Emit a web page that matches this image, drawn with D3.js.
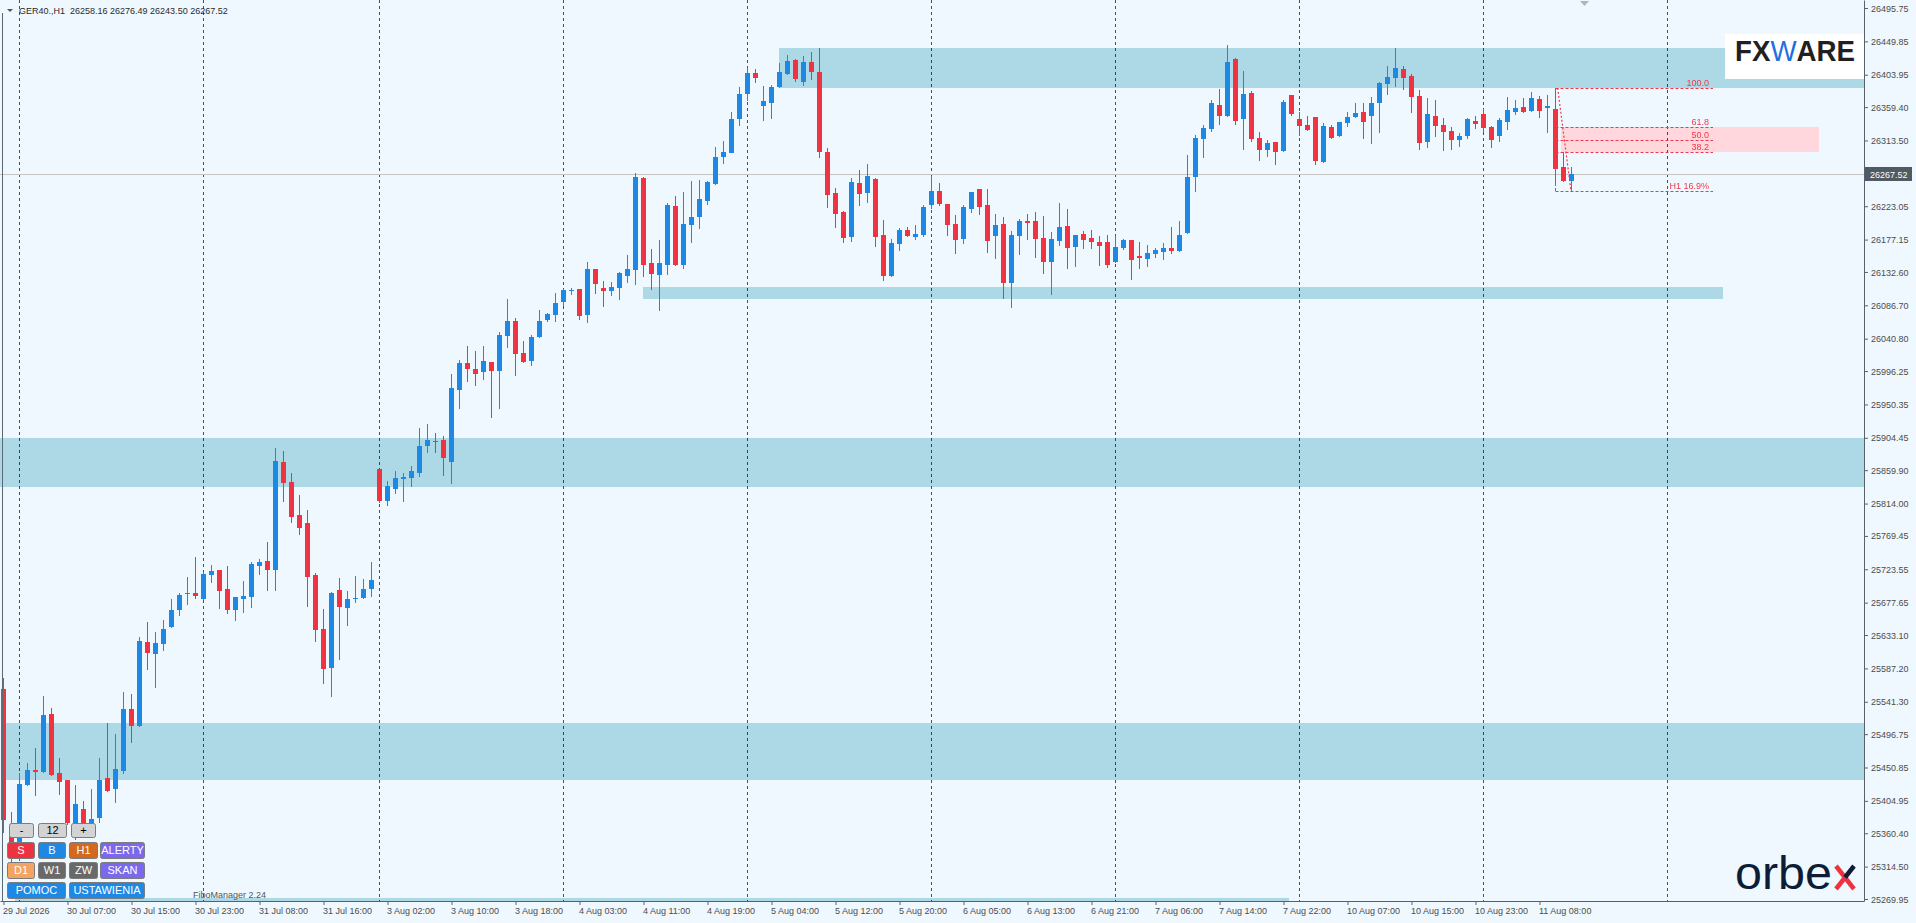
<!DOCTYPE html>
<html><head><meta charset="utf-8">
<script src="https://cdn.jsdelivr.net/npm/d3@7"></script>
<style>
html,body{margin:0;padding:0;background:#F0F8FF;overflow:hidden;}
svg{display:block;}
text{font-family:"Liberation Sans",Arial,sans-serif;}
</style></head><body>
<svg id="chart" width="1916" height="923"></svg>
<script>
// ---------------- DATA ----------------
const opens = [25558.9,25370.4,25334.6,25426.8,25447.4,25444.7,25524.5,25443.3,25433.7,25364.9,25393.8,25362.1,25381.4,25436.5,25421.3,25446.1,25531.4,25508.0,25623.5,25607.0,25620.8,25644.2,25667.6,25689.6,25690.9,25682.7,25715.7,25722.6,25696.5,25667.6,25682.7,25685.4,25728.1,25735.0,25722.6,25871.2,25843.7,25798.3,25787.3,25715.7,25641.4,25587.8,25695.1,25670.3,25682.7,25684.1,25696.5,25861.5,25817.5,25834.0,25847.9,25849.2,25856.1,25893.2,25900.1,25901.4,25871.2,25970.3,26007.4,25999.1,25995.0,26008.8,25996.4,26044.5,26065.2,26021.2,26010.1,26043.2,26066.6,26073.4,26091.3,26106.4,26109.2,26073.4,26136.7,26110.5,26106.4,26110.5,26127.1,26135.3,26261.9,26144.9,26128.4,26142.2,26223.4,26142.2,26197.3,26208.3,26230.3,26253.7,26290.7,26296.3,26343.1,26377.5,26406.4,26361.0,26365.1,26387.1,26405.0,26424.3,26393.9,26421.5,26407.7,26297.6,26241.3,26215.1,26180.8,26255.0,26241.3,26260.6,26183.5,26127.0,26171.1,26190.4,26180.8,26183.5,26225.1,26244.0,26226.1,26198.6,26178.0,26219.3,26246.8,26225.1,26182.1,26198.6,26117.5,26182.1,26202.7,26202.7,26179.4,26146.3,26175.2,26195.8,26167.0,26184.9,26179.4,26173.8,26173.8,26146.3,26165.6,26176.6,26154.6,26150.5,26157.4,26160.1,26165.6,26161.5,26186.2,26263.3,26315.6,26329.3,26362.3,26347.2,26425.6,26343.1,26378.8,26316.9,26300.4,26311.4,26299.0,26376.1,26343.1,26334.8,26345.8,26283.9,26332.1,26319.7,26337.6,26345.8,26352.7,26347.2,26365.1,26391.2,26399.5,26411.9,26402.2,26374.7,26311.4,26347.2,26334.8,26326.6,26314.2,26319.7,26340.3,26350.0,26332.1,26319.7,26339.0,26352.7,26359.6,26354.1,26370.6,26358.2,26356.8,26277.0,26258.16];
const highs = [25574.0,25389.6,25443.3,25457.1,25477.7,25549.2,25532.7,25463.9,25433.7,25426.8,25404.8,25421.3,25463.9,25512.1,25497.0,25554.8,25552.0,25630.4,25651.1,25637.3,25653.8,25682.7,25690.9,25713.0,25740.5,25719.9,25729.5,25722.6,25728.1,25685.4,25707.4,25733.6,25737.7,25761.1,25890.4,25886.3,25856.0,25825.8,25805.2,25718.5,25668.9,25692.3,25711.6,25693.7,25714.3,25710.2,25733.6,25861.5,25845.1,25858.8,25856.1,25865.7,25917.9,25923.5,25911.1,25906.9,25992.3,26011.5,26030.8,26023.9,26030.8,26008.8,26050.0,26095.5,26069.3,26037.7,26045.9,26080.3,26076.2,26103.7,26109.2,26110.5,26109.2,26146.3,26136.7,26120.2,26118.8,26132.6,26155.9,26268.8,26263.3,26164.2,26176.6,26227.5,26237.2,26242.6,26257.8,26259.2,26257.8,26304.5,26312.8,26352.7,26387.1,26413.3,26411.9,26388.5,26389.9,26420.1,26431.1,26425.6,26429.7,26435.2,26440.8,26303.2,26248.2,26216.5,26261.9,26272.9,26281.2,26261.9,26204.1,26178.0,26193.1,26194.5,26197.2,26225.1,26264.6,26255.0,26226.1,26210.9,26225.1,26242.6,26246.8,26246.8,26212.4,26208.3,26189.0,26205.5,26212.4,26215.1,26209.6,26187.6,26227.5,26219.3,26183.5,26189.0,26190.4,26182.1,26183.5,26182.1,26178.0,26176.6,26173.8,26169.7,26165.6,26172.5,26194.5,26202.7,26293.5,26321.1,26334.8,26369.2,26384.3,26444.9,26427.0,26409.1,26381.6,26325.2,26314.2,26311.4,26369.2,26376.1,26352.7,26347.2,26345.8,26337.6,26334.8,26339.0,26352.7,26365.1,26365.1,26373.3,26394.0,26416.0,26440.8,26416.0,26405.0,26383.0,26371.9,26369.2,26344.5,26332.1,26323.8,26344.5,26347.2,26356.8,26333.4,26344.5,26373.3,26369.2,26371.9,26380.2,26374.7,26376.1,26385.7,26297.6,26276.49];
const lows = [25360.8,25320.8,25323.6,25425.4,25411.7,25443.3,25439.2,25413.0,25371.8,25351.2,25362.1,25353.9,25374.5,25417.2,25402.0,25441.9,25484.6,25506.6,25585.0,25560.3,25611.1,25642.8,25659.3,25674.4,25682.7,25681.3,25704.7,25668.9,25662.1,25652.4,25663.4,25670.3,25715.7,25693.7,25693.7,25816.2,25787.3,25770.8,25671.7,25623.5,25565.8,25547.9,25598.8,25645.6,25677.2,25682.7,25685.4,25814.8,25810.7,25827.1,25816.2,25836.8,25850.6,25883.6,25883.6,25851.9,25840.9,25944.1,25981.3,25975.7,25984.0,25931.7,25944.1,26028.0,25989.5,26007.4,26003.3,26041.8,26063.8,26063.8,26085.8,26100.9,26066.6,26062.4,26102.3,26084.4,26099.6,26094.1,26117.4,26114.7,26125.7,26107.8,26078.9,26128.4,26140.8,26136.7,26172.5,26191.7,26224.8,26252.3,26281.2,26296.3,26333.4,26367.8,26392.6,26340.3,26343.1,26385.7,26403.6,26394.0,26388.4,26396.7,26289.4,26220.6,26193.1,26172.5,26173.8,26223.3,26227.5,26167.0,26120.2,26125.7,26161.5,26180.8,26176.6,26180.8,26219.3,26223.3,26182.1,26157.4,26171.1,26213.8,26211.0,26158.8,26150.5,26095.5,26083.1,26156.0,26176.6,26151.9,26129.8,26100.9,26168.3,26136.7,26139.5,26164.2,26164.2,26140.8,26138.1,26144.9,26162.9,26121.6,26136.7,26139.5,26151.9,26149.1,26157.4,26160.1,26185.0,26242.6,26289.4,26325.2,26334.8,26345.8,26334.8,26300.4,26311.4,26285.3,26290.8,26279.8,26297.6,26347.2,26319.7,26326.6,26279.8,26282.5,26315.6,26318.3,26332.1,26345.0,26315.6,26308.7,26323.8,26376.1,26387.1,26383.0,26351.3,26300.4,26303.2,26318.3,26299.0,26300.4,26304.5,26315.6,26329.3,26325.2,26303.2,26311.4,26327.9,26348.6,26351.3,26352.7,26344.5,26323.8,26255.0,26256.4,26243.50];
const closes = [25378.6,25334.6,25428.2,25447.4,25444.7,25523.1,25440.5,25430.9,25374.5,25400.7,25370.4,25380.0,25433.7,25418.6,25448.8,25531.4,25508.0,25624.9,25608.4,25622.2,25641.4,25667.6,25688.2,25690.9,25686.8,25717.1,25721.2,25693.7,25667.6,25685.4,25686.8,25730.8,25733.6,25722.6,25872.6,25842.3,25795.5,25780.4,25713.0,25640.0,25586.4,25690.9,25671.7,25682.7,25684.1,25696.5,25708.8,25817.5,25838.2,25849.2,25850.6,25858.8,25893.2,25901.4,25898.7,25876.7,25973.0,26007.4,25999.1,25992.3,26010.1,25996.4,26045.9,26065.2,26019.8,26008.8,26043.2,26065.2,26074.8,26089.9,26107.8,26107.8,26072.1,26136.7,26116.0,26106.4,26111.9,26131.2,26136.7,26263.3,26142.2,26129.8,26144.9,26224.8,26142.2,26198.6,26208.3,26233.0,26256.4,26290.7,26297.7,26343.1,26377.5,26406.4,26399.5,26367.8,26387.1,26407.8,26422.9,26398.1,26421.5,26407.7,26297.6,26238.5,26212.4,26179.4,26256.4,26239.9,26264.6,26180.8,26127.0,26172.5,26190.4,26182.1,26184.9,26222.3,26244.0,26226.1,26197.2,26176.6,26222.3,26242.6,26222.3,26175.2,26197.2,26117.5,26183.5,26202.7,26199.9,26178.0,26146.3,26178.0,26194.5,26165.6,26183.5,26176.6,26173.8,26168.3,26142.2,26167.0,26176.6,26149.1,26151.9,26158.8,26162.9,26165.6,26161.5,26183.5,26263.3,26316.9,26330.7,26365.1,26347.2,26421.5,26340.3,26377.5,26315.6,26300.4,26310.0,26297.6,26366.4,26350.0,26333.4,26327.9,26285.3,26333.4,26316.9,26339.0,26345.8,26351.3,26339.0,26365.1,26392.6,26400.9,26413.3,26399.5,26373.3,26310.0,26350.0,26333.4,26325.2,26314.2,26319.7,26343.1,26336.2,26330.7,26314.2,26341.7,26355.5,26358.2,26352.7,26371.9,26354.1,26361.0,26274.3,26257.8,26267.52];

const timeLabels = ["29 Jul 2026","30 Jul 07:00","30 Jul 15:00","30 Jul 23:00","31 Jul 08:00","31 Jul 16:00","3 Aug 02:00","3 Aug 10:00","3 Aug 18:00","4 Aug 03:00","4 Aug 11:00","4 Aug 19:00","5 Aug 04:00","5 Aug 12:00","5 Aug 20:00","6 Aug 05:00","6 Aug 13:00","6 Aug 21:00","7 Aug 06:00","7 Aug 14:00","7 Aug 22:00","10 Aug 07:00","10 Aug 15:00","10 Aug 23:00","11 Aug 08:00"];
const timeLabelStep = 8;
const priceTickLabels = ["26495.75","26449.85","26403.95","26359.40","26313.50","26223.05","26177.15","26132.60","26086.70","26040.80","25996.25","25950.35","25904.45","25859.90","25814.00","25769.45","25723.55","25677.65","25633.10","25587.20","25541.30","25496.75","25450.85","25404.95","25360.40","25314.50","25269.95"];
const daySeparatorBars = [2,25,47,70,93,116,139,162,185,208];
const lastPrice = 26267.52;

// zones (bar index / price); null = to the chart edge
const zoneStartBar = [96.9, 79.9, null, 0.3, 1.4];
const zoneEndBar   = [null, 214.9, null, null, 160.7];
const zoneHigh     = [26440.8, 26111.9, 25904.2, 25512.1, 25271.3];
const zoneLow      = [26385.7, 26095.5, 25836.8, 25433.7, 25240.0];

// Fibonacci
const fibHigh = 26385.7, fibLow = 26243.5;
const fibLevels = [1, 0.618, 0.5, 0.382, 0];
const fibLabels = ["100.0","61.8","50.0","38.2","H1 16.9%"];
const fibStartBar = 194, fibEndBar = 213.69;
const fibZoneBars = [194.69, 226.94];
const fibTrendBars = [194.27, 195.94];

const headerText = "GER40.,H1  26258.16 26276.49 26243.50 26267.52";

// ---------------- LAYOUT ----------------
const W = 1916, H = 923, plotR = 1864, plotB = 901;
const svg = d3.select('#chart');
const x = d3.scaleLinear().domain([-0.4375, 232.5625]).range([0, plotR]);
const y = d3.scaleLinear().domain([25267.2, 26506.76]).range([plotB, 0]);
const BULL = '#1e88e5', BEAR = '#ef3340';

svg.append('rect').attr('width', W).attr('height', H).attr('fill', '#F0F8FF');
svg.append('defs').append('clipPath').attr('id', 'plot')
  .append('rect').attr('x', 0).attr('y', 0).attr('width', plotR).attr('height', plotB);
const plot = svg.append('g').attr('clip-path', 'url(#plot)');

// zones
const zi = d3.range(zoneHigh.length);
plot.append('g').selectAll('rect').data(zi).join('rect')
  .attr('x', i => zoneStartBar[i] == null ? 0 : Math.round(x(zoneStartBar[i])))
  .attr('width', i => (zoneEndBar[i] == null ? plotR : Math.round(x(zoneEndBar[i]))) - (zoneStartBar[i] == null ? 0 : Math.round(x(zoneStartBar[i]))))
  .attr('y', i => Math.round(y(zoneHigh[i])))
  .attr('height', i => Math.round(y(zoneLow[i])) - Math.round(y(zoneHigh[i])))
  .attr('fill', '#ADD8E6');

// fib pink zone
const fibP = l => fibLow + l * (fibHigh - fibLow);
plot.append('rect')
  .attr('x', Math.round(x(fibZoneBars[0])))
  .attr('width', Math.round(x(fibZoneBars[1])) - Math.round(x(fibZoneBars[0])))
  .attr('y', Math.round(y(fibP(0.618))))
  .attr('height', Math.round(y(fibP(0.382))) - Math.round(y(fibP(0.618))))
  .attr('fill', '#ffd7dc');

// day separators
plot.append('g').selectAll('line').data(daySeparatorBars).join('line')
  .attr('x1', d => x(d)).attr('x2', d => x(d))
  .attr('y1', 0).attr('y2', plotB)
  .attr('stroke', '#44525c').attr('stroke-width', 1).attr('stroke-dasharray', '3,3')
  .style('mix-blend-mode', 'multiply');

// last price line
const lpY = Math.round(y(lastPrice)) + 0.5;
plot.append('line').attr('x1', 0).attr('x2', plotR).attr('y1', lpY).attr('y2', lpY)
  .attr('stroke', '#c4c4c4').attr('stroke-width', 1);

// candles
const idx = d3.range(opens.length);
const cg = plot.append('g');
cg.selectAll('rect.wick').data(idx).join('rect').attr('class', 'wick')
  .attr('x', i => x(i) - 0.5).attr('width', 1)
  .attr('y', i => Math.round(y(highs[i])))
  .attr('height', i => Math.max(1, Math.round(y(lows[i])) - Math.round(y(highs[i]))))
  .attr('fill', i => closes[i] >= opens[i] ? BULL : BEAR);
cg.selectAll('rect.body').data(idx).join('rect').attr('class', 'body')
  .attr('x', i => x(i) - 2.5).attr('width', 5)
  .attr('y', i => Math.round(y(Math.max(opens[i], closes[i]))))
  .attr('height', i => Math.max(1, Math.round(y(Math.min(opens[i], closes[i]))) - Math.round(y(Math.max(opens[i], closes[i])))))
  .attr('fill', i => closes[i] >= opens[i] ? BULL : BEAR);

// fib lines
const FIB = '#f0394a';
const fg = plot.append('g');
fg.selectAll('line.lvl').data(fibLevels).join('line').attr('class', 'lvl')
  .attr('x1', x(fibStartBar)).attr('x2', x(fibEndBar))
  .attr('y1', d => Math.round(y(fibP(d))) + 0.5).attr('y2', d => Math.round(y(fibP(d))) + 0.5)
  .attr('stroke', FIB).attr('stroke-dasharray', '3,2');
fg.append('line').attr('x1', x(fibStartBar)).attr('x2', x(fibStartBar))
  .attr('y1', y(fibP(1))).attr('y2', y(fibP(0)))
  .attr('stroke', FIB).attr('stroke-dasharray', '3,2');
fg.append('line').attr('x1', x(fibTrendBars[0])).attr('x2', x(fibTrendBars[1]))
  .attr('y1', y(fibHigh)).attr('y2', y(fibLow))
  .attr('stroke', FIB).attr('stroke-width', 1.2).attr('stroke-dasharray', '2,2');
fg.selectAll('text').data(fibLevels).join('text')
  .attr('x', x(fibEndBar) - 4).attr('y', d => Math.round(y(fibP(d))) - 2)
  .attr('text-anchor', 'end').attr('font-size', 9).attr('fill', FIB)
  .text((d, i) => fibLabels[i]);

// chart shift marker
svg.append('path').attr('d', 'M1580,1 L1589,1 L1584.5,6 Z').attr('fill', '#b4b4b4');

// ---------------- AXES ----------------
const yAxis = d3.axisRight(y)
  .tickValues(priceTickLabels.map(Number))
  .tickFormat((d, i) => priceTickLabels[i])
  .tickSize(4).tickSizeOuter(0).tickPadding(3);
const ya = svg.append('g').attr('transform', `translate(${plotR},0)`).call(yAxis);
ya.select('.domain').attr('stroke', '#59626a');
ya.selectAll('.tick line').attr('stroke', '#59626a');
ya.selectAll('.tick text').attr('font-family', '"Liberation Sans",Arial,sans-serif')
  .attr('font-size', 9).attr('fill', '#4c4c4c').attr('dy', '0.34em');

const tickBars = timeLabels.map((d, i) => i * timeLabelStep);
const xAxis = d3.axisBottom(x).tickValues(tickBars)
  .tickFormat((d, i) => timeLabels[i]).tickSize(4).tickSizeOuter(0);
const xa = svg.append('g').attr('transform', `translate(0,${plotB})`).call(xAxis);
xa.select('.domain').attr('stroke', '#59626a');
xa.selectAll('.tick line').attr('stroke', '#59626a');
xa.selectAll('.tick text').attr('font-family', '"Liberation Sans",Arial,sans-serif')
  .attr('font-size', 9).attr('fill', '#4c4c4c')
  .attr('text-anchor', 'start').attr('x', -1).attr('y', 7).attr('dy', '0.71em');

// left frame line
svg.append('line').attr('x1', 2.5).attr('x2', 2.5).attr('y1', 13).attr('y2', plotB)
  .attr('stroke', '#5d6972');

// last price label
svg.append('rect').attr('x', plotR + 1).attr('y', lpY - 7.5).attr('width', 47).attr('height', 14)
  .attr('fill', '#4f5a63');
svg.append('text').attr('x', plotR + 6).attr('y', lpY).attr('dy', '0.35em')
  .attr('font-size', 9).attr('fill', '#ffffff').text(lastPrice.toFixed(2));

// header
svg.append('path').attr('d', 'M7,9 L13,9 L10,12 Z').attr('fill', '#555');
svg.append('text').attr('x', 19).attr('y', 14).attr('font-size', 9).attr('fill', '#2a2a2a')
  .style('white-space', 'pre').text(headerText);

// ---------------- LOGOS ----------------
svg.append('rect').attr('x', 1725).attr('y', 34).attr('width', plotR - 1725).attr('height', 45).attr('fill', '#ffffff');
const fx = svg.append('text').attr('x', 1735).attr('y', 61).attr('font-size', 29)
  .attr('font-weight', 'bold').attr('textLength', 120).attr('lengthAdjust', 'spacingAndGlyphs');
fx.append('tspan').attr('fill', '#231f20').text('FX');
fx.append('tspan').attr('fill', '#1f6fe0').attr('font-weight', 'normal').text('W');
fx.append('tspan').attr('fill', '#231f20').text('ARE');

svg.append('text').attr('x', 1735).attr('y', 889).attr('font-size', 46)
  .attr('font-family', 'Lato, "Open Sans", sans-serif').attr('fill', '#0e1c38')
  .attr('textLength', 97).attr('lengthAdjust', 'spacingAndGlyphs').text('orbe');
svg.append('line').attr('x1', 1836).attr('y1', 866).attr('x2', 1854).attr('y2', 889)
  .attr('stroke', '#ee3340').attr('stroke-width', 4.5);
svg.append('line').attr('x1', 1854).attr('y1', 866).attr('x2', 1845).attr('y2', 877.5)
  .attr('stroke', '#0e1c38').attr('stroke-width', 4.5);
svg.append('line').attr('x1', 1845).attr('y1', 877.5).attr('x2', 1836).attr('y2', 889)
  .attr('stroke', '#ee3340').attr('stroke-width', 4.5);

// ---------------- PANEL BUTTONS ----------------
const buttons = [
  {t:'-', x:9, y:823, w:24, h:14, f:'#d3d3d3', c:'#000'},
  {t:'12', x:38, y:823, w:28, h:14, f:'#d3d3d3', c:'#000'},
  {t:'+', x:71, y:823, w:24, h:14, f:'#d3d3d3', c:'#000'},
  {t:'S', x:7, y:842, w:27, h:16, f:'#ee3340', c:'#fff'},
  {t:'B', x:38, y:842, w:27, h:16, f:'#1e88e5', c:'#fff'},
  {t:'H1', x:69, y:842, w:28, h:16, f:'#d2691e', c:'#fff'},
  {t:'ALERTY', x:100, y:842, w:44, h:16, f:'#7b68ee', c:'#fff'},
  {t:'D1', x:7, y:862, w:27, h:16, f:'#f4a460', c:'#fff'},
  {t:'W1', x:38, y:862, w:27, h:16, f:'#696969', c:'#fff'},
  {t:'ZW', x:69, y:862, w:28, h:16, f:'#696969', c:'#fff'},
  {t:'SKAN', x:100, y:862, w:44, h:16, f:'#7b68ee', c:'#fff'},
  {t:'POMOC', x:7, y:882, w:58, h:16, f:'#1e88e5', c:'#fff'},
  {t:'USTAWIENIA', x:69, y:882, w:75, h:16, f:'#1e88e5', c:'#fff'}
];
const bg = svg.append('g');
bg.selectAll('rect').data(buttons).join('rect')
  .attr('x', d => d.x + 0.5).attr('y', d => d.y + 0.5).attr('width', d => d.w).attr('height', d => d.h)
  .attr('rx', 2).attr('fill', d => d.f).attr('stroke', '#7c7c7c');
bg.selectAll('text').data(buttons).join('text')
  .attr('x', d => d.x + d.w / 2 + 0.5).attr('y', d => d.y + d.h / 2 + 0.5).attr('dy', '0.36em')
  .attr('text-anchor', 'middle').attr('font-size', 11).attr('fill', d => d.c).text(d => d.t);
svg.append('text').attr('x', 193).attr('y', 898).attr('font-size', 9).attr('fill', '#555')
  .text('FiboManager 2.24');
</script>
</body></html>
